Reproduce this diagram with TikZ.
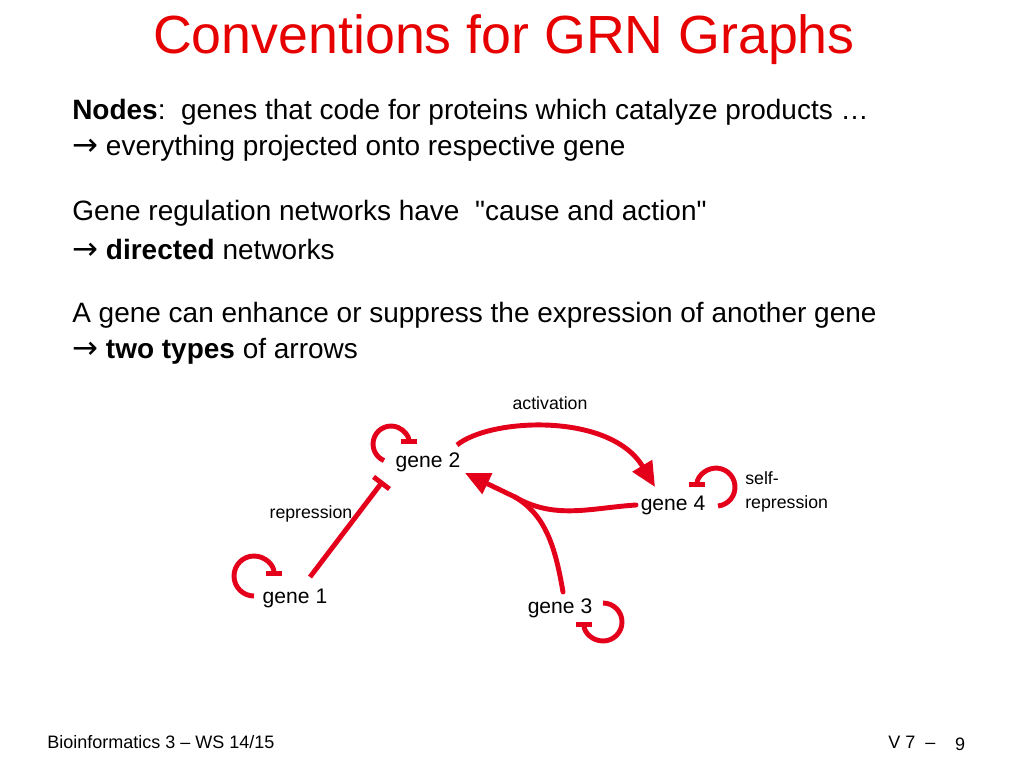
\documentclass[tikz,border=0pt]{standalone}
\usepackage{fontspec}
\setmainfont{Liberation Sans}
\newfontfamily\symfont{DejaVu Sans}
\newfontfamily\qfont{Liberation Sans}
\usetikzlibrary{arrows.meta,calc}
\definecolor{titlered}{RGB}{230,0,0}
\definecolor{arrred}{RGB}{228,0,27}
\newcommand{\rarr}{{\symfont\fontsize{22}{22}\selectfont →}}
\newcommand{\sq}{{\qfont "}}
\begin{document}
\begin{tikzpicture}[x=0.025cm,y=-0.025cm,
  body/.style={anchor=west,inner sep=0pt,font=\fontsize{19.9}{23}\selectfont},
  gene/.style={inner sep=1pt,text=black,font=\fontsize{15}{18}\selectfont},
  lbl/.style={inner sep=0pt,font=\fontsize{12.6}{17}\selectfont},
  foot/.style={inner sep=0pt,font=\fontsize{12.8}{15}\selectfont},
  edge/.style={draw=arrred,line width=3.5pt},
  act/.style={edge,-{Triangle[length=0.62cm,width=0.55cm]}},
  rep/.style={edge,-{Bar[width=0.5cm]}},
  selfrep/.style={edge,-{Bar[width=0.42cm]}}]
\useasboundingbox (0,0) rectangle (1024,768);
% title
\node[text=titlered,inner sep=0pt,font=\fontsize{38.2}{40}\selectfont] (title) at (504,40) {Conventions for GRN Graphs};
% body
\node[body] (t1) at (72,112) {\textbf{Nodes}:\ \ genes that code for proteins which catalyze products \dots};
\node[body] (t2) at (72,148) {\rarr\ everything projected onto respective gene};
\node[body] (t3) at (72,213) {Gene regulation networks have \ \sq cause and action\sq};
\node[body] (t4) at (72,249) {\rarr\ \textbf{directed} networks};
\node[body] (t5) at (72,315) {A gene can enhance or suppress the expression of another gene};
\node[body] (t6) at (72,351) {\rarr\ \textbf{two types} of arrows};
% labels
\node[lbl] (lact) at (550,403) {activation};
\node[lbl] (lrep) at (311,514) {repression};
\node[lbl,anchor=west,align=left] (lself) at (745,492) {self-\\repression};
% genes
\node[gene] (g1) at (295,598) {gene 1};
\node[gene] (g2) at (428,462) {gene 2};
\node[gene] (g3) at (560,608) {gene 3};
\node[gene] (g4) at (673,505) {gene 4};
% edges
\draw[rep] ($(g1)+(15,-21)$) -- ($(g2)+(-45,19)$);
\draw[act] ($(g2)+(29,-17)$) .. controls ($(g2)+(62,-44)$) and ($(g2)+(182,-50)$) .. ($(g4)+(-18,-18)$);
\coordinate (m) at (515,497);
\draw[edge,line cap=round] ($(g4)+(-37,0)$) .. controls ($(g4)+(-83,3)$) and ($(g4)+(-118,15)$) .. (m);
\draw[edge,line cap=round] ($(g3)+(3,-16)$) .. controls ($(g3)+(-5,-63)$) and ($(g3)+(-15,-93)$) .. (m);
\draw[act] (m) -- ($(g2)+(37,11)$);
% self loops
\draw[selfrep] ($(g1)+(-41,-2)$) arc[start angle=90,end angle=360,radius=20];
\draw[selfrep] ($(g2)+(-44,-1.4)$) arc[start angle=113,end angle=360,radius=18];
\draw[selfrep] ($(g4)+(45,1)$) arc[start angle=84,end angle=-180,radius=19];
\draw[selfrep] ($(g3)+(43,-5)$) arc[start angle=-90,end angle=180,radius=19];
% footer
\node[foot,anchor=west] (f1) at (47,742) {Bioinformatics 3 – WS 14/15};
\node[foot,anchor=west] (f2) at (888,742) {V 7 \ –};
\node[foot] (f3) at (960,744) {9};
\end{tikzpicture}
\end{document}
